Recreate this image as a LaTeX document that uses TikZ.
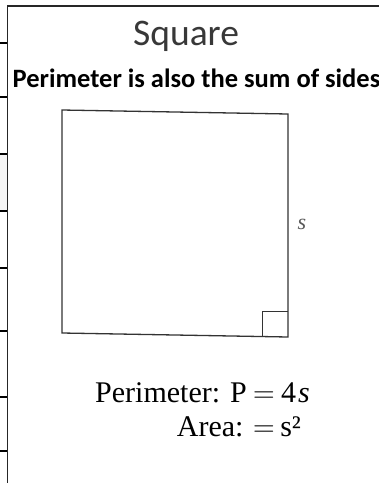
\documentclass[tikz,border=0pt]{standalone}
\usepackage{fontspec}
\setmainfont{Liberation Serif}
\newfontfamily\calibri{Carlito}
\newfontfamily\lmr{Latin Modern Roman}
\begin{document}
\begin{tikzpicture}[x=1pt,y=1pt,
  frame/.style={line width=1.8pt,black!85},
  tick/.style={line width=2pt,black},
  shape line/.style={line width=1.3pt,black!80,line join=miter},
  txt/.style={inner sep=0pt,anchor=base west},
  formula/.style={txt,font=\fontsize{30}{35}\selectfont}]
\useasboundingbox (0,0) rectangle (379,-483);
\clip (0,0) rectangle (379,-483);
\fill[white] (0,0) rectangle (379,-483);
% light band at the left
\fill[gray!8] (0,-154) rectangle (7,-210.7);
% frame
\draw[frame] (7.5,-483) -- (7.5,-5.8) -- (379,-5.8);
\foreach \yy in {42.7,97,154,210.7,268,331,397,451}
  \draw[tick] (0,-\yy) -- (7,-\yy);
% texts
\node[txt,font=\calibri\fontsize{37.5}{44}\selectfont,text=black!78] (title) at (133,-45) {Square};
\node[txt,font=\calibri\bfseries\fontsize{26.5}{31}\selectfont] (sub) at (12.5,-87.3) {Perimeter is also the sum of sides};
% square
\draw[shape line] (62,-110) -- (288,-114) -- (288,-337) -- (62,-333) -- cycle;
\draw[line width=1pt,black!80] (262,-337) -- (262,-311) -- (288,-311);
\node[inner sep=0pt,font=\fontsize{22}{26}\selectfont\itshape,text=black!65] (s) at (302,-224) {s};
% formulas
\node[formula] (per) at (95,-402.7) {Perimeter:\kern10pt P\kern6.3pt{\lmr=}\kern6.5pt 4\kern2pt\textit{s}};
\node[formula] (area) at (176.7,-436) {Area:\kern9.7pt{\lmr=}\kern5.5pt s²};
\end{tikzpicture}
\end{document}
